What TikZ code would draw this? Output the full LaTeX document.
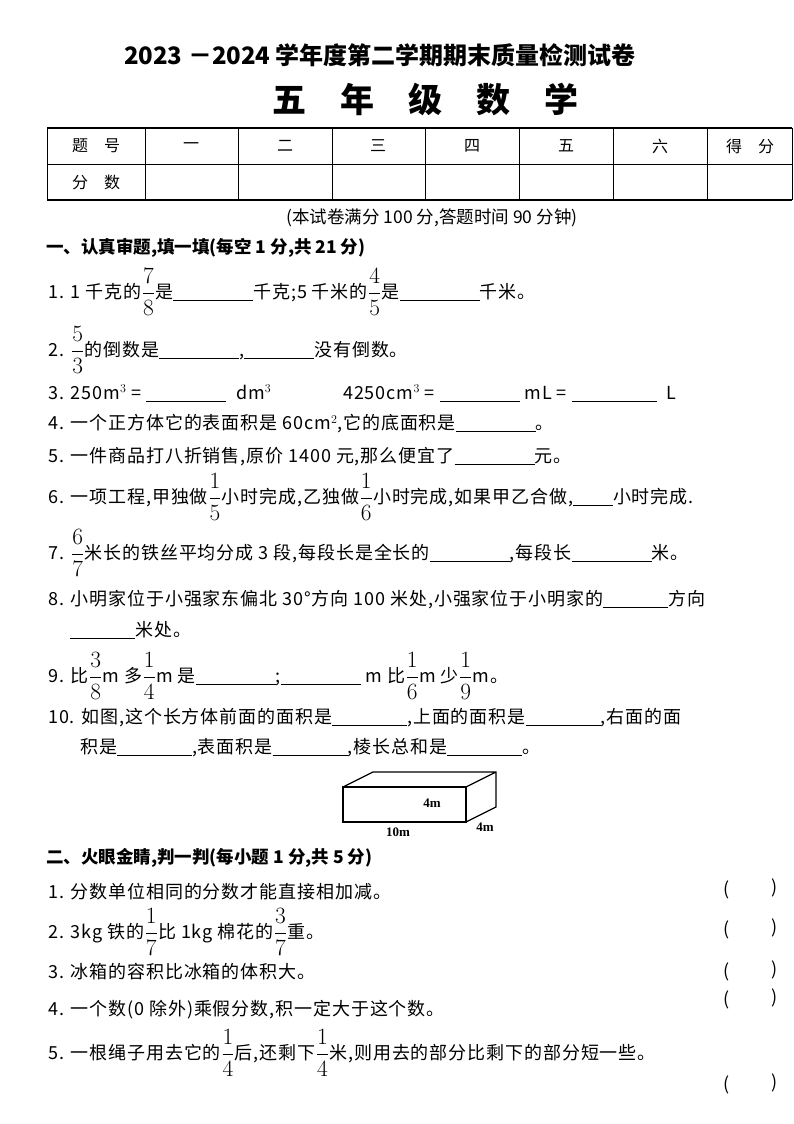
\documentclass[tikz,border=0pt]{standalone}
\usepackage{amsmath}
\usepackage{graphicx}
\usepackage{fontspec}
\setmainfont{Liberation Serif}
\newfontfamily\cjk[LetterSpace=5]{Noto Sans CJK SC}
\newfontfamily\cjkb[LetterSpace=0]{Noto Sans CJK SC}
\newcommand{\bk}[1]{\rule[-2pt]{#1}{0.6pt}}
\newcommand{\fr}[2]{\raisebox{-1pt}{\scalebox{1.35}{$\dfrac{#1}{#2}$}}}
\begin{document}
\begin{tikzpicture}[x=1pt,y=-1pt,
  q/.style={anchor=west,inner sep=0pt,font=\cjk\fontsize{18}{20}\selectfont},
  th/.style={font=\cjkb\fontsize{16}{18}\selectfont,inner sep=0pt}]
\useasboundingbox (0,0) rectangle (794,1124);
\node[font=\cjkb\bfseries\fontsize{24}{26}\selectfont] (t1) at (380,55) {2023 －2024 学年度第二学期期末质量检测试卷};
\node[font=\cjkb\bfseries\fontsize{34}{36}\selectfont] (t2) at (425,100) {五\quad 年\quad 级\quad 数\quad 学};
% table
\draw[line width=1.6pt] (47,128) -- (792,128) (47,200) -- (792,200);
\draw[line width=0.8pt] (47,164) -- (792,164) (47,128) -- (47,200) (792,128)--(792,200);
\foreach \x in {145,238,332,425,519,613,707} \draw[line width=0.8pt] (\x,128) -- (\x,200);
\node[th] (h0) at (96,146) {题\quad 号};
\node[th] (h1) at (191,146) {一};
\node[th] (h2) at (285,146) {二};
\node[th] (h3) at (378,146) {三};
\node[th] (h4) at (472,146) {四};
\node[th] (h5) at (566,146) {五};
\node[th] (h6) at (660,146) {六};
\node[th] (h7) at (750,146) {得\quad 分};
\node[th] (r2) at (96,182) {分\quad 数};
\node[q,anchor=center,font=\cjkb\fontsize{17.5}{20}\selectfont] (note) at (432,218) {(本试卷满分 100 分,答题时间 90 分钟)};
\node[q,font=\cjkb\bfseries\fontsize{17.5}{20}\selectfont] (s1) at (46,248) {一、认真审题,填一填(每空 1 分,共 21 分)};
\node[q] (a1) at (48,292) {1. 1 千克的\fr78是\bk{80pt}千克;5 千米的\fr45是\bk{80pt}千米。};
\node[q] (a2) at (48,350) {2. \fr53的倒数是\bk{80pt},\bk{70pt}没有倒数。};
\node[q] (a3) at (48,393) {3. 250m$^3$ = \bk{80pt}\ \ dm$^3$\qquad\qquad 4250cm$^3$ = \bk{80pt}\ mL = \bk{85pt}\ \ L};
\node[q] (a4) at (48,424) {4. 一个正方体它的表面积是 60cm$^2$,它的底面积是\bk{80pt}。};
\node[q] (a5) at (48,457) {5. 一件商品打八折销售,原价 1400 元,那么便宜了\bk{80pt}元。};
\node[q] (a6) at (48,497) {6. 一项工程,甲独做\fr15小时完成,乙独做\fr16小时完成,如果甲乙合做,\bk{40pt}小时完成.};
\node[q] (a7) at (48,553) {7. \fr67米长的铁丝平均分成 3 段,每段长是全长的\bk{80pt},每段长\bk{80pt}米。};
\node[q] (a8) at (48,600) {8. 小明家位于小强家东偏北 30°方向 100 米处,小强家位于小明家的\bk{65pt}方向};
\node[q] (a8b) at (70,630) {\bk{65pt}米处。};
\node[q] (a9) at (48,676) {9. 比\fr38m 多\fr14m 是\bk{80pt};\bk{80pt} m 比\fr16m 少\fr19m。};
\node[q] (a10) at (48,718) {10. 如图,这个长方体前面的面积是\bk{75pt},上面的面积是\bk{75pt},右面的面};
\node[q] (a10b) at (80,748) {积是\bk{75pt},表面积是\bk{75pt},棱长总和是\bk{75pt}。};
% box
\draw[line width=1.2pt] (343,787) rectangle (466,822);
\draw[line width=1.2pt] (343,787) -- (373,772) -- (496,772) -- (496,807) -- (466,822) (466,787) -- (496,772);
\node[font=\bfseries\fontsize{13}{15}\selectfont] (l1) at (432,803) {4m};
\node[font=\bfseries\fontsize{13}{15}\selectfont] (l2) at (398,832) {10m};
\node[font=\bfseries\fontsize{13}{15}\selectfont] (l3) at (485,827) {4m};
\node[q,font=\cjkb\bfseries\fontsize{17.5}{20}\selectfont] (s2) at (46,858) {二、火眼金睛,判一判(每小题 1 分,共 5 分)};
\node[q] (b1) at (48,892) {1. 分数单位相同的分数才能直接相加减。};
\node[q] (b2) at (48,932) {2. 3kg 铁的\fr17比 1kg 棉花的\fr37重。};
\node[q] (b3) at (48,972) {3. 冰箱的容积比冰箱的体积大。};
\node[q] (b4) at (48,1010) {4. 一个数(0 除外)乘假分数,积一定大于这个数。};
\node[q] (b5) at (48,1053) {5. 一根绳子用去它的\fr14后,还剩下\fr14米,则用去的部分比剩下的部分短一些。};
\foreach \y/\n in {890/p1,930/p2,972/p3,1000/p4,1085/p5}{
  \node[q,anchor=center] (\n l) at (727,\y) {(};
  \node[q,anchor=center] (\n r) at (775,\y-2) {)};}
\end{tikzpicture}
\end{document}
